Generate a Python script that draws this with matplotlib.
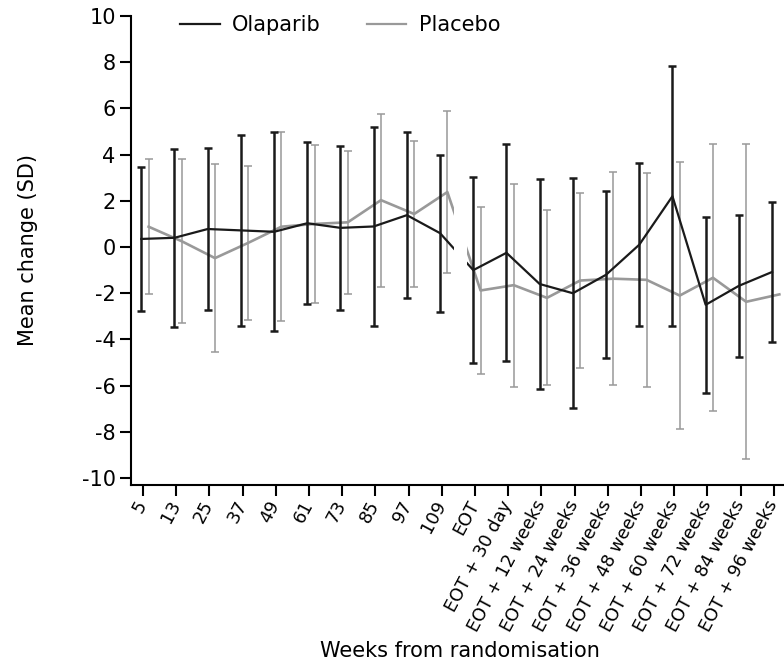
import numpy as np
import matplotlib.pyplot as plt
from matplotlib.lines import Line2D

plt.rcParams['font.family'] = 'DejaVu Sans'
plt.rcParams['axes.unicode_minus'] = False

weeks = ['5', '13', '25', '37', '49', '61', '73', '85', '97', '109', 'EOT',
         'EOT + 30 day', 'EOT + 12 weeks', 'EOT + 24 weeks', 'EOT + 36 weeks',
         'EOT + 48 weeks', 'EOT + 60 weeks', 'EOT + 72 weeks', 'EOT + 84 weeks',
         'EOT + 96 weeks']

olaparib_mean = [0.35, 0.4, 0.78, 0.72, 0.66, 1.03, 0.83, 0.89, 1.38, 0.6,
                 -1.0, -0.25, -1.6, -2.0, -1.2, 0.1, 2.2, -2.5, -1.68, -1.08]
olaparib_sd = [3.1, 3.85, 3.5, 4.12, 4.3, 3.5, 3.54, 4.29, 3.58, 3.4,
               4.04, 4.7, 4.55, 4.98, 3.61, 3.53, 5.63, 3.8, 3.07, 3.02]

placebo_mean = [0.88, 0.25, -0.48, 0.18, 0.88, 1.0, 1.07, 2.03, 1.43, 2.38,
                -1.88, -1.65, -2.2, -1.45, -1.37, -1.42, -2.1, -1.33, -2.37, -2.05]
placebo_sd = [2.93, 3.54, 4.06, 3.34, 4.09, 3.42, 3.1, 3.74, 3.18, 3.49,
              3.63, 4.4, 3.79, 3.79, 4.6, 4.64, 5.79, 5.77, 6.82, np.nan]

black = '#1a1a1a'
grey = '#999999'

fig = plt.figure(figsize=(7.84, 6.63), dpi=100)
ax = fig.add_axes([131 / 784, 1 - 485 / 663, 653 / 784, 469 / 663])

x = np.arange(len(weeks))
ax.errorbar(x + 0.17, placebo_mean, yerr=placebo_sd, fmt='none', ecolor=grey,
            elinewidth=1.1, capsize=3, capthick=1.1, zorder=1.8)
ax.plot(x + 0.17, placebo_mean, color=grey, lw=1.9, zorder=1.9)
ax.errorbar(x - 0.05, olaparib_mean, yerr=olaparib_sd, fmt='none', ecolor=black,
            elinewidth=1.8, capsize=3, capthick=1.8, zorder=2)
ax.plot(x - 0.05, olaparib_mean, color=black, lw=1.6, zorder=2.1)

# break between on-treatment and post-treatment visits
ax.axvspan(9.37, 9.77, color='white', lw=0, zorder=3)

ax.set_xlim(-0.36, 19.31)
ax.set_ylim(-10.3, 10)
ax.set_yticks(range(-10, 11, 2))
ax.set_xticks(x)
ax.set_xticklabels(weeks, rotation=62, ha='right', va='center',
                   rotation_mode='anchor', fontsize=12.8)

for side in ['top', 'right']:
    ax.spines[side].set_visible(False)
for side in ['left', 'bottom']:
    ax.spines[side].set_linewidth(1.5)
    ax.spines[side].set_zorder(5)
ax.tick_params(length=8, width=1.5, pad=3)
ax.tick_params(axis='x', pad=4)
ax.tick_params(axis='y', labelsize=15)

ax.set_ylabel('Mean change (SD)', fontsize=15)
ax.yaxis.set_label_coords(-0.142, 0.5)
ax.set_xlabel('Weeks from randomisation', fontsize=15, va='top')
ax.xaxis.set_label_coords(0.504, -0.333)

handles = [Line2D([], [], color=black, lw=1.6), Line2D([], [], color=grey, lw=1.6)]
ax.legend(handles, ['Olaparib', 'Placebo'], loc='center left',
          bbox_to_anchor=(180 / 784, 1 - 25 / 663), bbox_transform=fig.transFigure,
          ncol=2, frameon=False, handlelength=1.9, handletextpad=0.6,
          columnspacing=2.2, borderpad=0, borderaxespad=0, fontsize=15)

fig.savefig('out.png', dpi=100)
